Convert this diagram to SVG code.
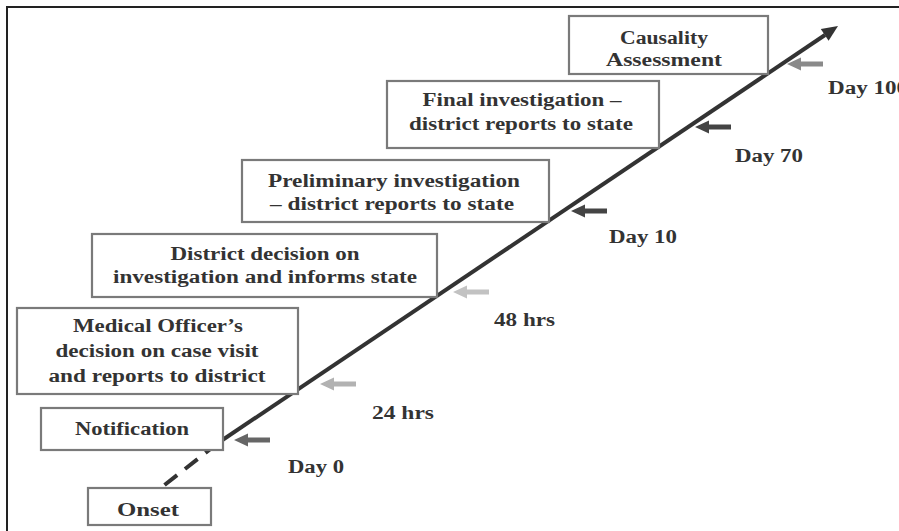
<svg xmlns="http://www.w3.org/2000/svg" xmlns:xlink="http://www.w3.org/1999/xlink" width="899" height="531" viewBox="0 0 899 531">
<style>
.box{fill:#fff;stroke:#7a7a7a;stroke-width:2.2}
.t{font-family:"Liberation Serif","Times New Roman",serif;font-weight:bold;font-size:18px;fill:#333}
.c{text-anchor:middle}
.main{stroke:#333;stroke-width:4;fill:none}
</style>
<defs>
<path id="la" d="M0,0 L14,-6.5 L14,-2.5 L36,-2.5 L36,2.5 L14,2.5 L14,6.5 Z"/>
</defs>
<rect x="0" y="0" width="899" height="531" fill="#fff"/>
<rect x="7" y="7" width="940" height="560" fill="none" stroke="#222" stroke-width="2"/>

<g id="connectors">
<line class="main" x1="218" y1="443" x2="825" y2="35"/>
<polygon points="838,26 828.6,40.7 820.8,29.1" fill="#333"/>
<line class="main" x1="218" y1="443" x2="162" y2="487" stroke-dasharray="16 10"/>
<use href="#la" xlink:href="#la" x="787" y="64" fill="#8a8a8a"/>
<use href="#la" xlink:href="#la" x="695" y="127" fill="#444"/>
<use href="#la" xlink:href="#la" x="571" y="211" fill="#444"/>
<use href="#la" xlink:href="#la" x="453" y="292" fill="#c2c2c2"/>
<use href="#la" xlink:href="#la" x="320" y="384" fill="#b2b2b2"/>
<use href="#la" xlink:href="#la" x="234" y="440" fill="#666"/>
</g>

<g id="causality">
<rect class="box" x="569" y="16" width="199" height="58"/>
<text class="t c" x="664" y="44" textLength="88" lengthAdjust="spacingAndGlyphs">Causality</text>
<text class="t c" x="664" y="66" textLength="116" lengthAdjust="spacingAndGlyphs">Assessment</text>
</g>
<g id="final">
<rect class="box" x="387" y="81" width="272" height="67"/>
<text class="t c" x="522" y="106" textLength="199" lengthAdjust="spacingAndGlyphs">Final investigation –</text>
<text class="t c" x="521" y="130" textLength="224" lengthAdjust="spacingAndGlyphs">district reports to state</text>
</g>
<g id="preliminary">
<rect class="box" x="242" y="160" width="307" height="62"/>
<text class="t c" x="394" y="187" textLength="252" lengthAdjust="spacingAndGlyphs">Preliminary investigation</text>
<text class="t c" x="392" y="210" textLength="244" lengthAdjust="spacingAndGlyphs">– district reports to state</text>
</g>
<g id="district">
<rect class="box" x="92" y="234" width="345" height="63"/>
<text class="t c" x="265" y="260" textLength="189" lengthAdjust="spacingAndGlyphs">District decision on</text>
<text class="t c" x="265" y="283" textLength="304" lengthAdjust="spacingAndGlyphs">investigation and informs state</text>
</g>
<g id="medical">
<rect class="box" x="17" y="308" width="281" height="86"/>
<text class="t c" x="158" y="332" textLength="170" lengthAdjust="spacingAndGlyphs">Medical Officer’s</text>
<text class="t c" x="157" y="357" textLength="203" lengthAdjust="spacingAndGlyphs">decision on case visit</text>
<text class="t c" x="157" y="382" textLength="217" lengthAdjust="spacingAndGlyphs">and reports to district</text>
</g>
<g id="notification">
<rect class="box" x="41" y="408" width="182" height="42"/>
<text class="t c" x="132" y="435" textLength="114" lengthAdjust="spacingAndGlyphs">Notification</text>
</g>
<g id="onset">
<rect class="box" x="88" y="488" width="123" height="37"/>
<text class="t c" x="148" y="516" textLength="62" lengthAdjust="spacingAndGlyphs">Onset</text>
</g>

<g id="labels">
<text class="t" x="828" y="94" textLength="80" lengthAdjust="spacingAndGlyphs">Day 100</text>
<text class="t" x="735" y="162" textLength="68" lengthAdjust="spacingAndGlyphs">Day 70</text>
<text class="t" x="609" y="243" textLength="68" lengthAdjust="spacingAndGlyphs">Day 10</text>
<text class="t" x="494" y="326" textLength="61" lengthAdjust="spacingAndGlyphs">48 hrs</text>
<text class="t" x="372" y="419" textLength="62" lengthAdjust="spacingAndGlyphs">24 hrs</text>
<text class="t" x="288" y="473" textLength="56" lengthAdjust="spacingAndGlyphs">Day 0</text>
</g>
</svg>
